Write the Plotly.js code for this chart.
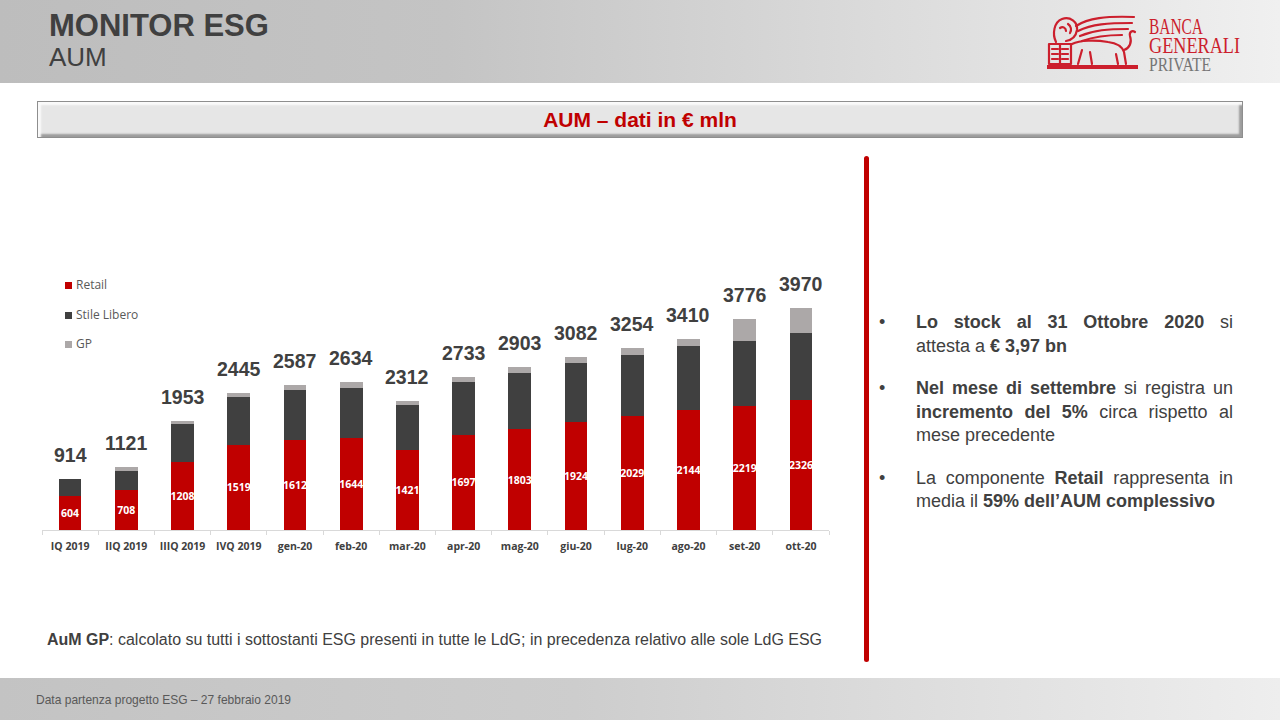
<!DOCTYPE html>
<html>
<head>
<meta charset="utf-8">
<script src="https://cdn.plot.ly/plotly-3.0.1.min.js"></script>
<style>
  html, body { margin:0; padding:0; background:#fff; }
  #page { position:relative; width:1280px; height:720px; overflow:hidden; font-family: Arial, "Liberation Sans", sans-serif; }
  .abs { position:absolute; }
  #hdr { left:0; top:0; width:1280px; height:83px; background:linear-gradient(to right,#bdbdbd 0%,#c4c4c4 35%,#dcdcdc 70%,#f0f0f0 100%); }
  #ftr { left:0; top:678px; width:1280px; height:42px; background:linear-gradient(to right,#c3c3c3 0%,#cdcdcd 45%,#e2e2e2 80%,#eeeeee 100%); }
  #chart { left:0; top:0; width:1280px; height:720px; }
  .fit { white-space:nowrap; display:inline-block; transform-origin:left center; }
  #t1 { left:49px; top:9px; font-size:31px; line-height:34px; font-weight:bold; color:#404040; }
  #t2 { left:49px; top:43px; font-size:26px; line-height:28px; color:#404040; }
  #box { left:37px; top:101px; width:1206px; height:37px; box-sizing:border-box; background:#e6e6e6;
         border:1px solid #8e8e8e; box-shadow: inset 3px 3px 2px #fafafa, inset -3px -3px 2px #9c9c9c; }
  #boxt { left:37px; top:101px; width:1206px; height:37px; line-height:37px; text-align:center; font-size:21px; font-weight:bold; color:#c00000; }
  #vline { left:864px; top:156px; width:5px; height:506px; background:#c00000; border-radius:3px; }
  .bul { position:absolute; left:879px; font-size:18px; color:#404040; }
  .ln { position:absolute; left:916px; width:317px; font-size:18px; color:#404040; white-space:nowrap; }
  .j { text-align:justify; text-align-last:justify; white-space:normal; }
  #foot { left:47px; top:631px; font-family:"Liberation Sans Narrow", "Arial Narrow", Arial, sans-serif; font-size:16px; color:#404040; }
  #ftxt { left:36px; top:692px; font-family:"Liberation Sans Narrow", "Arial Narrow", Arial, sans-serif; font-size:13px; color:#595959; }
  .lg { position:absolute; font-family:"Open Sans", sans-serif; font-size:12px; color:#595959; }
  .sw { position:absolute; width:7px; height:7px; }
  .logo { font-family:"Liberation Serif", "DejaVu Serif", serif; color:#cc1f2d; }
</style>
</head>
<body>
<div id="page">
  <div id="hdr" class="abs"></div>
  <div id="ftr" class="abs"></div>
  <div id="chart" class="abs"></div>

  <div id="t1" class="abs">MONITOR ESG</div>
  <div id="t2" class="abs">AUM</div>

  <!-- logo -->
  <svg class="abs" style="left:1046px;top:14px" width="94" height="58" viewBox="0 0 94 58">
    <g fill="none" stroke="#cc1f2d" stroke-width="2.2" stroke-linejoin="round" stroke-linecap="round">
      <rect x="3" y="30" width="22" height="20"/>
      <path d="M14 30 V50 M6 35 H12 M6 40 H12 M6 45 H12 M16 35 H22 M16 40 H22 M16 45 H22"/>
      <path d="M10 28 C6 20 8 8 16 5 C24 2 32 8 31 16 C30 22 26 26 20 27"/>
      <path d="M14 14 C17 12 20 14 20 17 M22 10 C25 12 26 16 24 19"/>
      <path d="M30 12 C42 4 60 2 88 3 M32 17 C46 10 62 9 86 9 M34 22 C48 16 62 15 82 15 M36 27 C50 22 62 21 76 21"/>
      <path d="M26 30 C34 26 50 26 62 28 C70 29 76 32 78 38 L80 50 M70 40 L72 50 M36 36 L32 50 M44 38 L46 50"/>
      <path d="M78 36 C84 34 86 28 84 22 C83 18 86 16 89 18"/>
    </g>
    <rect x="1" y="51" width="91" height="4" fill="#cc1f2d"/>
  </svg>
  <div class="abs logo" style="left:1149px;top:16.5px;font-size:24px;line-height:19px;height:19px;"><span class="fit" data-w="54">BANCA</span></div>
  <div class="abs logo" style="left:1149px;top:36px;font-size:24px;line-height:19px;height:19px;"><span class="fit" data-w="91">GENERALI</span></div>
  <div class="abs logo" style="left:1149px;top:57.5px;font-size:19px;line-height:14px;height:14px;color:#767676;"><span class="fit" data-w="62">PRIVATE</span></div>

  <div id="box" class="abs"></div>
  <div id="boxt" class="abs">AUM – dati in € mln</div>

  <div id="vline" class="abs"></div>

  <!-- legend -->
  <div class="sw" style="left:65px;top:282px;background:#c00000"></div>
  <div class="lg" style="left:76px;top:276px">Retail</div>
  <div class="sw" style="left:65px;top:312px;background:#404040"></div>
  <div class="lg" style="left:76px;top:306px">Stile Libero</div>
  <div class="sw" style="left:65px;top:341px;background:#aca8a8"></div>
  <div class="lg" style="left:76px;top:335px">GP</div>

  <!-- bullets -->
  <div class="bul" style="top:312px">•</div>
  <div class="ln j" style="top:312px"><b>Lo stock al 31 Ottobre 2020</b> si</div>
  <div class="ln" style="top:336px">attesta a <b>€ 3,97 bn</b></div>

  <div class="bul" style="top:378px">•</div>
  <div class="ln j" style="top:378px"><b>Nel mese di settembre</b> si registra un</div>
  <div class="ln j" style="top:402px"><b>incremento del 5%</b> circa rispetto al</div>
  <div class="ln" style="top:425px">mese precedente</div>

  <div class="bul" style="top:468px">•</div>
  <div class="ln j" style="top:468px">La componente <b>Retail</b> rappresenta in</div>
  <div class="ln" style="top:491px">media il <b>59% dell’AUM complessivo</b></div>

  <div id="foot" class="abs"><span class="fit" data-w="775"><b>AuM GP</b>: calcolato su tutti i sottostanti ESG presenti in tutte le LdG; in precedenza relativo alle sole LdG ESG</span></div>
  <div id="ftxt" class="abs"><span class="fit" data-w="255">Data partenza progetto ESG – 27 febbraio 2019</span></div>
</div>

<script>
// ---- data ----
const categories = ['IQ 2019','IIQ 2019','IIIQ 2019','IVQ 2019','gen-20','feb-20','mar-20','apr-20','mag-20','giu-20','lug-20','ago-20','set-20','ott-20'];
const retail      = [604, 708, 1208, 1519, 1612, 1644, 1421, 1697, 1803, 1924, 2029, 2144, 2219, 2326];
const stileLibero = [310, 351,  685,  851,  888,  892,  806,  946,  995, 1053, 1101, 1142, 1161, 1197];
const gp          = [  0,  62,   60,   75,   87,   98,   85,   90,  105,  105,  124,  124,  396,  447];
const totals      = [914, 1121, 1953, 2445, 2587, 2634, 2312, 2733, 2903, 3082, 3254, 3410, 3776, 3970];
const seriesNames = ['Retail', 'Stile Libero', 'GP'];

const colors = ['#c00000', '#404040', '#aca8a8'];

const traces = [
  { type:'bar', name:seriesNames[0], x:categories, y:retail, marker:{color:colors[0]},
    text:retail.map(String), textposition:'inside', insidetextanchor:'middle', constraintext:'none', textangle:0,
    textfont:{family:'Open Sans, Arial, sans-serif', size:10.5, color:'#ffffff', weight:'bold'}, hoverinfo:'none' },
  { type:'bar', name:seriesNames[1], x:categories, y:stileLibero, marker:{color:colors[1]}, textposition:'none', hoverinfo:'none' },
  { type:'bar', name:seriesNames[2], x:categories, y:gp, marker:{color:colors[2]}, textposition:'none', hoverinfo:'none' }
];

const annotations = categories.map((c, i) => ({
  x:c, y:totals[i], xref:'x', yref:'y', text:String(totals[i]), showarrow:false,
  yanchor:'middle', yshift:24,
  font:{family:'Arial, Liberation Sans, sans-serif', size:19.5, color:'#404040', weight:'bold'}
}));

const layout = {
  width:1280, height:720,
  margin:{l:42, r:451, t:260, b:190, pad:0},
  paper_bgcolor:'rgba(0,0,0,0)', plot_bgcolor:'rgba(0,0,0,0)',
  barmode:'stack', bargap:0.595,
  showlegend:false,
  xaxis:{ type:'category', showline:true, linecolor:'#d9d9d9', linewidth:1,
          ticks:'outside', tickson:'boundaries', ticklen:4, tickcolor:'#d9d9d9',
          ticklabelstandoff:6,
          showgrid:false, zeroline:false, fixedrange:true,
          tickfont:{family:'Open Sans, Arial, sans-serif', size:10.5, color:'#404040', weight:'bold'} },
  yaxis:{ range:[0, 4821], visible:false, showgrid:false, zeroline:false, fixedrange:true },
  annotations:annotations
};

Plotly.newPlot('chart', traces, layout, {staticPlot:true, displayModeBar:false});

// fit text widths
document.querySelectorAll('.fit').forEach(el => {
  const w = parseFloat(el.dataset.w);
  const a = el.getBoundingClientRect().width;
  if (a > 0) el.style.transform = 'scaleX(' + (w / a) + ')';
});
</script>
</body>
</html>
